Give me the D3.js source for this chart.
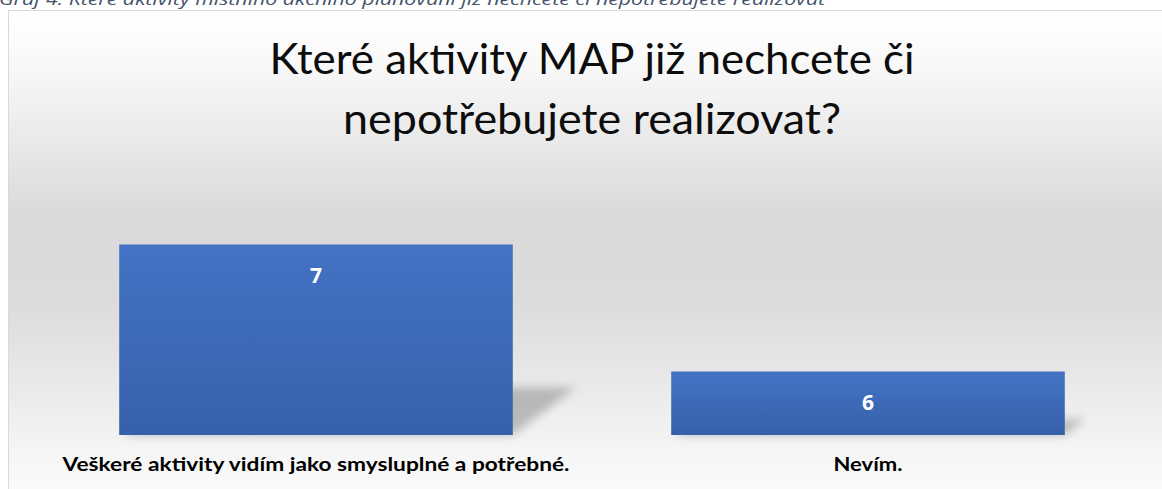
<!DOCTYPE html>
<html>
<head>
<meta charset="utf-8">
<script src="https://cdn.jsdelivr.net/npm/d3@7"></script>
<style>
  html, body { margin: 0; padding: 0; background: #ffffff; overflow: hidden; }
  svg { display: block; }
</style>
</head>
<body>
<svg id="chart" width="1162" height="489"></svg>
<script>
// ---- data ----
const categories = ["Veškeré aktivity vidím jako smysluplné a potřebné.", "Nevím."];
const values = [7, 6];
const titleLines = ["Které aktivity MAP již nechcete či", "nepotřebujete realizovat?"];
const captionText = "Graf 4: Které aktivity místního akčního plánování již nechcete či nepotřebujete realizovat";
const yDomain = [5.5, 7.5];

// ---- layout ----
const W = 1162, H = 489;
const svg = d3.select("#chart");
const defs = svg.append("defs");

const bg = defs.append("linearGradient").attr("id", "bgGrad")
  .attr("gradientUnits", "userSpaceOnUse").attr("x1", 0).attr("y1", 10).attr("x2", 0).attr("y2", 500);
[[0, "#ffffff"], [0.08, "#fbfbfb"], [0.22, "#eeeeee"], [0.43, "#d9d9d9"], [0.6, "#dcdcdc"], [0.75, "#e8e8e8"], [0.9, "#f5f5f5"], [1, "#fbfbfb"]]
  .forEach(([o, c]) => bg.append("stop").attr("offset", o).attr("stop-color", c));

const barGrad = defs.append("linearGradient").attr("id", "barGrad")
  .attr("x1", 0).attr("y1", 0).attr("x2", 0).attr("y2", 1);
barGrad.append("stop").attr("offset", 0).attr("stop-color", "#4473c5");
barGrad.append("stop").attr("offset", 1).attr("stop-color", "#3660a9");

const blur = defs.append("filter").attr("id", "shadowBlur")
  .attr("x", "-30%").attr("y", "-60%").attr("width", "160%").attr("height", "220%");
blur.append("feGaussianBlur").attr("stdDeviation", 5);

// caption above chart (cut off at top)
svg.append("text")
  .attr("x", -1).attr("y", 5)
  .attr("font-family", "Open Sans, sans-serif")
  .attr("font-style", "italic")
  .attr("font-size", 17)
  .attr("fill", "#44546a")
  .attr("textLength", 826).attr("lengthAdjust", "spacingAndGlyphs")
  .text(captionText);

// chart area
svg.append("rect")
  .attr("x", 8.5).attr("y", 10.5).attr("width", 1200).attr("height", 600)
  .attr("fill", "url(#bgGrad)").attr("stroke", "#d9d9d9").attr("stroke-width", 1);

// title
const titleWidths = [645, 498];
const titleY = [74, 134];
titleLines.forEach((t, i) => {
  svg.append("text")
    .attr("x", 592).attr("y", titleY[i])
    .attr("text-anchor", "middle")
    .attr("font-family", "Lato, Open Sans, sans-serif")
    .attr("font-size", 42)
    .attr("fill", "#0d0d0d")
    .attr("textLength", titleWidths[i]).attr("lengthAdjust", "spacingAndGlyphs")
    .text(t);
});

// scales
const x = d3.scaleBand().domain(categories).range([40, 1144]).paddingInner(0.287).paddingOuter(0.1435);
const y = d3.scaleLinear().domain(yDomain).range([435, 181]);

const data = categories.map((c, i) => ({ c, v: values[i] }));

// shadows
svg.append("g").selectAll("path").data(data).join("path")
  .attr("d", d => {
    const x0 = x(d.c), x1 = x(d.c) + x.bandwidth();
    const b = y(yDomain[0]);
    const h = b - y(d.v);
    const dy = h * 0.25, dx = h * 0.33;
    return `M${x0 + 4},${b} L${x1},${b} L${x1 + dx},${b - dy} L${x0 + dx},${b - dy} Z`;
  })
  .attr("fill", "#000").attr("opacity", 0.22)
  .attr("filter", "url(#shadowBlur)");

// bars
svg.append("g").selectAll("rect").data(data).join("rect")
  .attr("x", d => x(d.c))
  .attr("y", d => y(d.v))
  .attr("width", x.bandwidth())
  .attr("height", d => y(yDomain[0]) - y(d.v))
  .attr("fill", "url(#barGrad)");

// value labels
svg.append("g").selectAll("text").data(data).join("text")
  .attr("x", d => x(d.c) + x.bandwidth() / 2)
  .attr("y", d => y(d.v) + 38.5)
  .attr("text-anchor", "middle")
  .attr("font-family", "Open Sans, sans-serif")
  .attr("font-weight", "bold")
  .attr("font-size", 21)
  .attr("fill", "#ffffff")
  .text(d => d.v);

// category axis
const labelWidths = [507, 69];
const axis = svg.append("g")
  .attr("transform", `translate(0,${y(yDomain[0])})`)
  .call(d3.axisBottom(x).tickSize(0).tickPadding(0));
axis.select(".domain").remove();
axis.selectAll(".tick text")
  .attr("y", 36).attr("dy", null)
  .attr("font-family", "Lato, Open Sans, sans-serif")
  .attr("font-weight", "bold")
  .attr("font-size", 19.5)
  .attr("fill", "#000")
  .each(function(d, i) {
    d3.select(this).attr("textLength", labelWidths[i]).attr("lengthAdjust", "spacingAndGlyphs");
  });
</script>
</body>
</html>
